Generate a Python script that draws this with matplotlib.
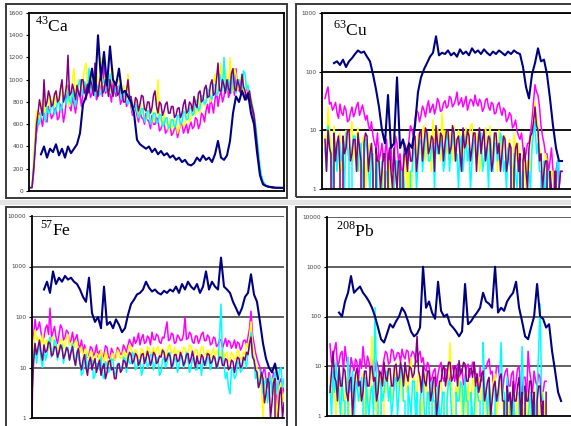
import numpy as np
import matplotlib
matplotlib.use("Agg")
import matplotlib.pyplot as plt
from matplotlib.patches import Rectangle

# ---- colours (Excel default series colours) ----
NAVY = "#000080"
MAGENTA = "#ff00ff"
YELLOW = "#ffff00"
CYAN = "#00ffff"
PURPLE = "#800080"

# sample spacing (s): background isotopes every half second, navy trace every second
STEP_MINOR = 0.5
STEP_NAVY = 1.0

# ---- 43Ca (linear) ----
ca_start_minor = 0
ca_start_navy = 4
ca_magenta = [30, 32, 30, 150, 380, 520, 600, 700, 650, 580, 700, 640, 620, 760, 720, 650, 680, 730, 750, 640,
              660, 780, 740, 620, 700, 820, 950, 760, 720, 840, 780, 700, 800, 900, 850, 760, 900, 980, 820, 900,
              950, 840, 880, 1050, 1000, 820, 860, 960, 920, 850, 1150, 880, 900, 1000, 870, 800, 980, 900, 850, 940,
              900, 780, 820, 900, 880, 760, 800, 850, 760, 680, 700, 760, 680, 620, 720, 660, 650, 600, 700, 640,
              620, 560, 680, 600, 600, 660, 640, 540, 560, 610, 620, 520, 540, 590, 600, 500, 520, 560, 580, 480,
              540, 620, 600, 520, 560, 600, 520, 580, 620, 560, 580, 660, 640, 560, 600, 700, 680, 620, 720, 780,
              700, 820, 780, 700, 820, 900, 760, 850, 900, 800, 850, 960, 1000, 840, 880, 1050, 950, 860, 1100, 920,
              900, 1000, 980, 860, 850, 950, 900, 820, 800, 720, 650, 560, 420, 300, 180, 120, 80, 60, 50, 45,
              40, 35, 30, 32, 30, 28, 28, 30, 30, 27, 30]
ca_yellow = [30, 33, 35, 300, 500, 720, 700, 640, 720, 820, 760, 700, 800, 880, 740, 810, 820, 760, 900, 800,
             780, 880, 1000, 820, 850, 950, 820, 760, 900, 1000, 1100, 850, 880, 1000, 950, 860, 1000, 1100, 1150, 900,
             920, 1000, 1050, 880, 900, 1080, 980, 900, 1200, 980, 950, 1050, 1000, 900, 880, 960, 1100, 920, 950, 1000,
             1000, 880, 850, 950, 900, 820, 1050, 880, 800, 720, 760, 820, 720, 660, 800, 700, 700, 760, 760, 650,
             680, 720, 740, 620, 650, 700, 1000, 660, 640, 580, 700, 620, 600, 540, 650, 560, 580, 640, 620, 520,
             560, 620, 640, 580, 600, 680, 700, 620, 650, 760, 720, 680, 780, 850, 700, 820, 850, 760, 800, 920,
             900, 800, 850, 980, 1050, 880, 900, 1000, 1150, 920, 950, 1080, 1000, 900, 1200, 1000, 900, 1100, 1050, 900,
             950, 1020, 1000, 900, 880, 980, 920, 840, 850, 780, 700, 600, 450, 320, 200, 120, 70, 55, 45, 38,
             35, 32, 30, 28, 28, 32, 30, 26, 25, 28, 30]
ca_cyan = [30, 28, 30, 200, 420, 560, 650, 600, 700, 740, 680, 620, 760, 700, 700, 800, 780, 690, 720, 810,
           800, 720, 760, 860, 850, 780, 900, 820, 780, 900, 820, 760, 880, 960, 1000, 860, 900, 980, 950, 880,
           1100, 940, 900, 1000, 850, 920, 950, 860, 880, 980, 1000, 900, 900, 960, 1050, 880, 850, 940, 900, 860,
           950, 880, 820, 900, 880, 800, 780, 860, 820, 740, 700, 780, 760, 660, 680, 740, 740, 620, 650, 720,
           720, 600, 640, 700, 700, 610, 620, 690, 680, 580, 600, 650, 660, 560, 580, 640, 640, 570, 600, 680,
           680, 600, 620, 720, 700, 640, 650, 740, 750, 680, 700, 820, 800, 720, 750, 860, 850, 780, 800, 920,
           900, 840, 820, 960, 950, 860, 880, 1050, 1000, 900, 1200, 950, 900, 1000, 950, 880, 1100, 960, 880, 1000,
           1000, 920, 900, 1080, 1050, 920, 950, 860, 820, 760, 700, 600, 480, 350, 220, 140, 90, 70, 50, 45,
           40, 38, 35, 32, 30, 28, 30, 27, 28, 26, 25]
ca_purple = [30, 30, 30, 180, 350, 600, 700, 820, 750, 680, 1000, 760, 800, 900, 850, 760, 780, 870, 900, 800,
             820, 920, 1000, 800, 850, 950, 1220, 860, 880, 960, 900, 820, 950, 880, 850, 1000, 1000, 880, 900, 960,
             880, 1000, 950, 860, 1150, 920, 850, 980, 1050, 880, 900, 1000, 950, 850, 1000, 920, 850, 980, 950, 860,
             880, 960, 900, 800, 800, 900, 1000, 840, 850, 760, 750, 840, 820, 720, 780, 860, 850, 740, 720, 800,
             800, 700, 750, 860, 900, 760, 700, 800, 780, 680, 720, 780, 800, 700, 700, 760, 760, 660, 680, 740,
             750, 660, 700, 780, 820, 700, 720, 800, 780, 720, 850, 780, 750, 880, 900, 800, 820, 920, 950, 840,
             850, 960, 1000, 860, 880, 1000, 1150, 900, 900, 1000, 950, 880, 1000, 920, 880, 1060, 1100, 920, 900, 1000,
             950, 880, 1050, 940, 900, 820, 850, 900, 800, 740, 680, 560, 420, 280, 160, 100, 70, 55, 45, 40,
             35, 32, 30, 28, 30, 27, 25, 30, 30, 26, 28]
ca_navy = [330, 400, 300, 380, 350, 420, 320, 380, 300, 400, 340, 380,
           420, 520, 780, 850, 950, 1100, 900, 1400, 1000, 1250, 950, 1300,
           1000, 950, 1100, 880, 900, 850, 800, 700, 460, 420, 400, 380,
           400, 350, 380, 330, 360, 320, 340, 300, 320, 280, 300, 260,
           280, 240, 230, 250, 300, 270, 320, 280, 300, 260, 330, 450,
           300, 280, 320, 450, 700, 850, 800, 900, 820, 880, 700, 600,
           350, 140, 60, 45, 38, 35, 30, 30, 28, 30]

# ---- 63Cu (log) ----
cu_start_minor = 1
cu_start_navy = 4
cu_magenta = [35, 45, 55, 28, 30, 22, 25, 30, 20, 16, 28, 20, 18, 26, 22, 14, 15, 20, 25, 17,
              20, 26, 30, 18, 22, 27, 20, 15, 18, 12, 10, 14, 8, 6, 5, 9, 3, 4, 6, 3,
              4, 7, 2, 3, 5, 2, 3, 8, 6, 3, 4, 2, 2, 6, 5, 3, 7, 12, 10, 8,
              15, 22, 20, 14, 18, 26, 22, 17, 25, 32, 20, 24, 28, 19, 24, 35, 30, 21, 22, 29,
              32, 24, 26, 38, 35, 25, 28, 33, 45, 27, 30, 36, 25, 30, 38, 22, 28, 34, 32, 26,
              40, 30, 26, 34, 30, 21, 24, 33, 35, 25, 22, 30, 28, 19, 20, 27, 30, 22, 18, 24,
              22, 14, 16, 20, 18, 11, 12, 15, 10, 8, 7, 9, 5, 3, 4, 6, 6, 9, 15, 30,
              60, 45, 40, 25, 12, 8, 6, 4, 4, 2, 3, 5, 2, 1, 2, 3, 1, 2, 2]
cu_yellow = [8, 3, 25, 10, 6, 2, 12, 5, 4, 8, 9, 2, 3, 6, 10, 4, 5, 9, 14, 3,
             6, 8, 11, 2, 4, 7, 8, 1, 3, 5, 6, 2, 2, 0, 1, 3, 3, 1, 0, 2,
             2, 0, 1, 3, 0, 1, 3, 0, 1, 2, 2, 0, 0, 3, 4, 1, 2, 0, 3, 5,
             6, 2, 9, 4, 4, 10, 12, 3, 7, 9, 5, 2, 15, 6, 8, 11, 6, 3, 20, 7,
             10, 4, 5, 8, 9, 3, 12, 6, 6, 10, 8, 2, 4, 7, 11, 5, 7, 12, 13, 4,
             5, 7, 9, 2, 3, 6, 8, 11, 6, 3, 12, 5, 4, 9, 7, 2, 10, 6, 3, 8,
             8, 2, 5, 7, 4, 1, 9, 5, 3, 6, 2, 0, 4, 2, 1, 3, 3, 2, 8, 15,
             30, 18, 12, 5, 4, 1, 2, 4, 3, 0, 1, 2, 2, 1, 0, 1, 1, 0, 0]
cu_cyan = [5, 2, 12, 6, 3, 1, 8, 4, 2, 7, 6, 3, 4, 1, 9, 5, 3, 0, 5, 8,
           8, 3, 2, 5, 6, 1, 3, 7, 5, 2, 1, 4, 4, 0, 2, 3, 0, 1, 3, 0,
           1, 2, 2, 0, 0, 1, 1, 3, 3, 0, 0, 2, 2, 1, 1, 0, 0, 2, 2, 4,
           5, 1, 3, 6, 7, 2, 4, 8, 9, 3, 3, 5, 6, 1, 8, 4, 4, 7, 5, 2,
           3, 9, 7, 2, 5, 6, 10, 3, 4, 1, 6, 8, 2, 4, 8, 3, 5, 1, 3, 6,
           7, 3, 4, 8, 9, 2, 3, 5, 5, 1, 8, 4, 2, 6, 6, 3, 4, 9, 7, 2,
           3, 1, 5, 3, 2, 0, 4, 2, 1, 3, 3, 1, 2, 0, 0, 2, 2, 1, 5, 9,
           14, 4, 6, 2, 2, 0, 3, 1, 1, 2, 2, 0, 0, 1, 1, 3, 3, 0, 0]
cu_purple = [7, 2, 10, 5, 4, 0, 9, 3, 6, 8, 2, 0, 8, 4, 5, 10, 10, 3, 4, 7,
             7, 2, 9, 5, 3, 0, 6, 9, 8, 2, 4, 6, 2, 0, 5, 3, 3, 1, 2, 4,
             4, 0, 3, 5, 2, 1, 5, 2, 1, 3, 3, 0, 2, 4, 4, 2, 6, 3, 3, 7,
             8, 2, 4, 9, 10, 3, 6, 11, 9, 4, 5, 8, 7, 2, 12, 6, 4, 9, 8, 3,
             6, 10, 10, 4, 5, 12, 9, 3, 7, 8, 4, 2, 11, 5, 6, 10, 8, 3, 5, 9,
             9, 2, 6, 11, 4, 7, 10, 3, 5, 8, 7, 2, 3, 9, 9, 4, 6, 2, 4, 8,
             7, 2, 3, 6, 5, 0, 2, 5, 6, 2, 4, 0, 3, 5, 2, 1, 5, 8, 9, 14,
             25, 12, 10, 3, 4, 1, 2, 3, 3, 0, 2, 1, 0, 2, 2, 0, 1, 2, 2]
cu_navy = [140, 150, 130, 160, 120, 150, 170, 200, 230, 210,
           220, 180, 150, 90, 50, 25, 10, 6, 40, 5,
           6, 80, 5, 7, 4, 6, 5, 12, 45, 80,
           110, 140, 180, 210, 400, 190, 210, 200, 230, 190,
           210, 180, 240, 200, 220, 190, 250, 210, 230, 200,
           240, 210, 190, 220, 200, 230, 210, 190, 220, 200,
           230, 210, 200, 120, 55, 35, 90, 140, 250, 150,
           160, 90, 35, 12, 5, 3, 3]

# ---- 57Fe (log) ----
fe_start_minor = 0
fe_start_navy = 4
fe_magenta = [1, 40, 90, 55, 60, 80, 50, 35, 40, 60, 70, 45, 150, 40, 50, 65, 40, 30, 45, 70,
              60, 35, 40, 55, 50, 30, 35, 50, 30, 38, 45, 28, 25, 35, 20, 28, 22, 16, 18, 26,
              24, 17, 20, 28, 16, 21, 22, 15, 18, 27, 25, 16, 15, 24, 20, 14, 17, 25, 22, 18,
              19, 28, 24, 20, 28, 36, 30, 26, 40, 30, 35, 48, 28, 38, 45, 30, 32, 42, 38, 28,
              50, 36, 35, 46, 42, 32, 30, 40, 38, 55, 80, 34, 36, 48, 45, 30, 32, 44, 40, 34,
              35, 45, 100, 36, 38, 50, 45, 32, 30, 42, 42, 30, 36, 46, 50, 34, 34, 44, 40, 28,
              30, 40, 38, 26, 28, 36, 35, 24, 30, 38, 26, 34, 32, 24, 28, 35, 24, 32, 30, 22,
              26, 34, 35, 28, 40, 60, 130, 45, 30, 20, 15, 12, 10, 6, 8, 10, 6, 4, 8, 5,
              5, 8, 7, 3, 1, 5, 6, 3, 4]
fe_yellow = [10, 30, 55, 35, 40, 25, 30, 45, 25, 32, 35, 22, 28, 38, 40, 26, 30, 20, 25, 36,
             35, 24, 28, 40, 45, 28, 30, 22, 25, 34, 32, 18, 20, 26, 18, 14, 24, 17, 15, 21,
             20, 12, 14, 19, 18, 13, 22, 16, 13, 20, 17, 11, 12, 18, 19, 14, 15, 22, 20, 15,
             16, 21, 18, 14, 22, 28, 25, 17, 18, 23, 20, 15, 16, 24, 22, 17, 18, 26, 24, 19,
             20, 25, 17, 22, 26, 18, 19, 24, 22, 16, 18, 27, 28, 19, 20, 25, 16, 21, 22, 17,
             18, 25, 24, 18, 20, 28, 26, 19, 17, 23, 22, 16, 19, 26, 25, 18, 18, 22, 21, 15,
             20, 24, 16, 20, 22, 15, 18, 23, 15, 19, 20, 13, 14, 20, 18, 14, 16, 22, 20, 14,
             15, 20, 18, 30, 25, 40, 80, 30, 20, 12, 10, 6, 7, 4, 1, 6, 5, 2, 3, 7,
             6, 3, 4, 1, 2, 4, 5, 2, 3]
fe_cyan = [5, 15, 30, 12, 20, 28, 15, 10, 25, 14, 18, 30, 40, 16, 22, 35, 30, 14, 20, 26,
           28, 12, 18, 24, 25, 14, 20, 30, 16, 11, 22, 15, 12, 7, 8, 16, 18, 9, 10, 14,
           14, 6, 7, 12, 12, 9, 16, 7, 6, 13, 11, 8, 9, 15, 14, 7, 8, 12, 12, 9,
           10, 16, 15, 8, 18, 12, 12, 20, 16, 9, 10, 14, 14, 7, 9, 16, 15, 10, 12, 18,
           18, 9, 11, 16, 14, 7, 8, 14, 16, 10, 12, 19, 20, 11, 10, 15, 15, 8, 11, 16,
           17, 10, 12, 20, 14, 8, 10, 15, 16, 9, 9, 13, 13, 7, 15, 12, 11, 16, 14, 9,
           12, 17, 16, 10, 10, 40, 180, 15, 12, 6, 8, 4, 3, 9, 10, 6, 7, 13, 12, 8,
           9, 15, 14, 10, 20, 25, 50, 18, 15, 6, 8, 4, 5, 9, 3, 5, 6, 2, 4, 7,
           3, 5, 8, 3, 5, 9, 10, 4, 6]
fe_purple = [3, 12, 30, 18, 25, 35, 20, 14, 28, 20, 22, 32, 30, 17, 18, 26, 25, 16, 20, 28,
             24, 15, 18, 25, 22, 14, 20, 26, 15, 11, 19, 24, 12, 9, 14, 18, 10, 7, 13, 16,
             9, 12, 15, 8, 11, 14, 7, 10, 12, 6, 8, 13, 14, 9, 10, 6, 6, 11, 12, 8,
             9, 14, 13, 10, 15, 20, 18, 12, 14, 19, 17, 11, 13, 18, 19, 12, 15, 21, 16, 11,
             14, 20, 18, 12, 13, 17, 16, 22, 20, 13, 15, 19, 17, 10, 12, 18, 18, 13, 14, 20,
             16, 11, 13, 18, 19, 12, 15, 21, 14, 10, 17, 12, 12, 18, 16, 11, 14, 19, 18, 12,
             13, 17, 15, 10, 12, 16, 16, 11, 11, 15, 14, 9, 10, 14, 13, 8, 12, 16, 15, 10,
             11, 16, 14, 20, 18, 30, 40, 16, 14, 9, 8, 4, 5, 8, 6, 2, 3, 6, 5, 1,
             2, 5, 6, 0, 1, 3, 4, 1, 2]
fe_navy = [350, 500, 300, 800, 450, 600, 500, 650, 550, 600,
           500, 450, 350, 250, 200, 600, 120, 80, 100, 60,
           400, 70, 80, 60, 90, 70, 50, 60, 110, 180,
           220, 280, 300, 350, 500, 380, 320, 350, 300, 280,
           330, 300, 350, 320, 400, 300, 450, 350, 500, 400,
           350, 450, 300, 400, 800, 350, 500, 400, 350, 1500,
           400, 350, 300, 200, 150, 110, 150, 250, 300, 700,
           280, 200, 80, 30, 15, 10, 8, 12, 6]

# ---- 208Pb (log) ----
pb_start_minor = 1
pb_start_navy = 4
pb_magenta = [28, 12, 15, 22, 30, 10, 12, 18, 20, 8, 25, 14, 10, 6, 15, 11, 8, 14, 12, 5,
              14, 9, 25, 12, 9, 16, 12, 7, 15, 10, 8, 13, 10, 5, 6, 9, 14, 20, 18, 11,
              12, 22, 20, 13, 15, 19, 18, 12, 22, 16, 14, 21, 20, 11, 16, 20, 18, 13, 12, 17,
              20, 12, 15, 9, 8, 12, 10, 5, 6, 8, 9, 4, 7, 10, 12, 6, 5, 9, 8, 4,
              6, 9, 10, 5, 7, 11, 5, 8, 9, 4, 6, 10, 11, 6, 8, 12, 12, 7, 7, 3,
              10, 5, 6, 9, 9, 12, 14, 7, 8, 4, 5, 10, 10, 6, 7, 3, 6, 8, 9, 4,
              4, 7, 8, 3, 5, 9, 10, 4, 3, 6, 6, 2, 20, 8, 5, 3, 8, 5, 4, 7,
              6, 2, 3, 5, 5]
pb_yellow = [6, 2, 3, 5, 1, 4, 8, 2, 4, 0, 2, 6, 5, 1, 0, 3, 3, 7, 6, 2,
             2, 4, 7, 1, 4, 3, 1, 5, 40, 6, 3, 1, 5, 8, 2, 0, 6, 3, 4, 9,
             8, 2, 3, 6, 12, 4, 5, 10, 2, 5, 9, 3, 4, 7, 15, 5, 6, 2, 3, 8,
             5, 1, 2, 4, 7, 2, 3, 0, 1, 3, 4, 1, 2, 5, 5, 2, 1, 0, 3, 6,
             30, 4, 2, 0, 4, 2, 6, 3, 1, 4, 3, 1, 5, 2, 2, 6, 4, 1, 3, 5,
             6, 2, 2, 4, 1, 0, 4, 2, 3, 5, 7, 1, 2, 3, 5, 2, 1, 0, 3, 1,
             2, 0, 4, 1, 1, 3, 3, 0, 2, 1, 0, 2, 3, 1, 1, 0, 2, 3, 4, 1,
             1, 0, 3, 1, 2]
pb_cyan = [4, 1, 8, 3, 12, 5, 3, 1, 6, 2, 2, 0, 15, 3, 4, 8, 1, 3, 5, 2,
           3, 6, 2, 0, 6, 2, 1, 3, 4, 1, 150, 5, 2, 0, 5, 2, 3, 6, 8, 2,
           4, 1, 2, 5, 6, 1, 3, 8, 10, 2, 2, 0, 4, 2, 1, 5, 5, 1, 3, 0,
           2, 4, 6, 1, 1, 3, 3, 0, 5, 2, 2, 0, 4, 1, 1, 3, 3, 0, 2, 5,
           5, 1, 1, 0, 3, 2, 2, 5, 4, 1, 6, 2, 2, 0, 3, 1, 1, 4, 4, 2,
           2, 0, 30, 4, 3, 1, 5, 2, 1, 0, 4, 2, 2, 6, 30, 3, 3, 1, 6, 2,
           2, 0, 4, 1, 1, 0, 3, 2, 25, 3, 2, 0, 1, 2, 3, 0, 2, 1, 4, 20,
           180, 3, 2, 0, 1]
pb_purple = [3, 8, 20, 6, 5, 2, 10, 4, 4, 9, 8, 3, 2, 5, 6, 1, 3, 7, 9, 4,
             5, 2, 3, 8, 8, 4, 4, 10, 10, 5, 6, 2, 3, 8, 7, 4, 12, 6, 5, 9,
             9, 4, 4, 10, 11, 5, 6, 12, 8, 4, 12, 7, 5, 10, 9, 6, 7, 13, 40, 8,
             6, 3, 10, 5, 4, 8, 8, 2, 3, 6, 6, 1, 2, 5, 5, 9, 10, 4, 7, 12,
             12, 5, 6, 10, 9, 4, 13, 7, 8, 12, 11, 5, 5, 9, 9, 6, 12, 4, 7, 3,
             4, 7, 8, 2, 3, 5, 6, 1, 2, 4, 5, 2, 3, 6, 7, 2, 2, 0, 4, 2,
             3, 1, 5, 2, 2, 4, 6, 1, 3, 0, 4, 2, 2, 5, 5, 1, 3, 0, 2, 4,
             4, 1, 2, 0, 3]
pb_navy = [120, 100, 200, 300, 650, 300, 350, 400, 300, 250,
           200, 150, 100, 60, 35, 30, 45, 70, 60, 80,
           100, 150, 120, 80, 50, 40, 45, 60, 1000, 150,
           200, 120, 90, 500, 130, 100, 110, 70, 60, 50,
           40, 50, 450, 70, 80, 100, 120, 150, 300, 200,
           180, 150, 1000, 120, 150, 130, 200, 250, 300, 500,
           150, 80, 40, 35, 60, 100, 450, 100, 90, 60,
           70, 20, 8, 3, 2]

W, H = 571, 426
fig = plt.figure(figsize=(W / 100, H / 100), dpi=100)
fig.patch.set_facecolor("white")
plt.rcParams["mathtext.fontset"] = "custom"
plt.rcParams["mathtext.rm"] = "Liberation Serif"


def px_axes(left, top, right, bottom):
    return fig.add_axes([left / W, 1 - bottom / H, (right - left) / W, (bottom - top) / H])


def frame(left, top, right, bottom):
    fig.patches.append(Rectangle((left / W, 1 - bottom / H), (right - left) / W, (bottom - top) / H,
                                 transform=fig.transFigure, fill=False, ec="#3a3a3a", lw=1.4))


# light grey band between the rows, then the outer panel frames
fig.patches.append(Rectangle((0, 1 - 205 / H), 1, 5 / H, transform=fig.transFigure,
                             fc="#e4e4e4", ec="none"))
frame(6, 4, 287, 198)
frame(296, 4, 580, 197)
frame(6, 207, 287, 440)
frame(296, 207, 580, 440)


def draw(ax, start_minor, start_navy, magenta, yellow, cyan, purple, navy):
    for vals, col in [(magenta, MAGENTA), (yellow, YELLOW), (cyan, CYAN), (purple, PURPLE)]:
        t = start_minor + STEP_MINOR * np.arange(len(vals))
        ax.plot(t, vals, color=col, lw=1.1)
    t = start_navy + STEP_NAVY * np.arange(len(navy))
    ax.plot(t, navy, color=NAVY, lw=1.5, zorder=3)


def style(ax, ticks, labels, grid_col=None, top=True, right=True):
    ax.set_yticks(ticks)
    ax.set_yticklabels(labels)
    ax.set_xticks([])
    ax.minorticks_off()
    ax.tick_params(axis="y", direction="out", length=2.5, width=0.8, pad=1.5,
                   labelsize=4.2, labelcolor="#444444")
    for s in ax.spines.values():
        s.set_color("black")
        s.set_linewidth(1.3)
    ax.spines["top"].set_visible(top)
    ax.spines["right"].set_visible(right)
    if grid_col:
        for v in ticks[1:]:
            ax.axhline(v, color=grid_col, lw=1.3, zorder=0.5)


def label(ax, x, y, iso, el):
    ax.text(x, y, r"$^{%s}$%s" % (iso, el), transform=ax.transAxes, family="Liberation Serif",
            fontsize=12.5, va="baseline", ha="left", zorder=10)


# 43Ca
ax1 = px_axes(29, 13, 284, 191)
draw(ax1, ca_start_minor, ca_start_navy, ca_magenta, ca_yellow, ca_cyan, ca_purple, ca_navy)
ax1.set_xlim(0, 85)
ax1.set_ylim(0, 1600)
style(ax1, list(range(0, 1601, 200)), [str(v) for v in range(0, 1601, 200)])
label(ax1, 0.024, 0.895, "43", "Ca")

# 63Cu
ax2 = px_axes(322, 13, 571, 189)
draw(ax2, cu_start_minor, cu_start_navy, cu_magenta, cu_yellow, cu_cyan, cu_purple, cu_navy)
ax2.set_yscale("log")
ax2.set_xlim(0, 83)
ax2.set_ylim(1, 1000)
style(ax2, [1, 10, 100, 1000], ["1", "10", "100", "1000"], grid_col="black", right=False)
label(ax2, 0.044, 0.87, "63", "Cu")

# 57Fe
ax3 = px_axes(32, 216, 284, 418)
draw(ax3, fe_start_minor, fe_start_navy, fe_magenta, fe_yellow, fe_cyan, fe_purple, fe_navy)
ax3.set_yscale("log")
ax3.set_xlim(0, 84)
ax3.set_ylim(1, 10000)
style(ax3, [1, 10, 100, 1000, 10000], ["1", "10", "100", "1000", "10000"],
      grid_col="#555555", top=False, right=False)
label(ax3, 0.032, 0.90, "57", "Fe")

# 208Pb
ax4 = px_axes(327, 217, 571, 416)
draw(ax4, pb_start_minor, pb_start_navy, pb_magenta, pb_yellow, pb_cyan, pb_purple, pb_navy)
ax4.set_yscale("log")
ax4.set_xlim(0, 81.3)
ax4.set_ylim(1, 10000)
style(ax4, [1, 10, 100, 1000, 10000], ["1", "10", "100", "1000", "10000"],
      grid_col="#555555", top=False, right=False)
label(ax4, 0.037, 0.90, "208", "Pb")

fig.savefig("out.png", dpi=100)
